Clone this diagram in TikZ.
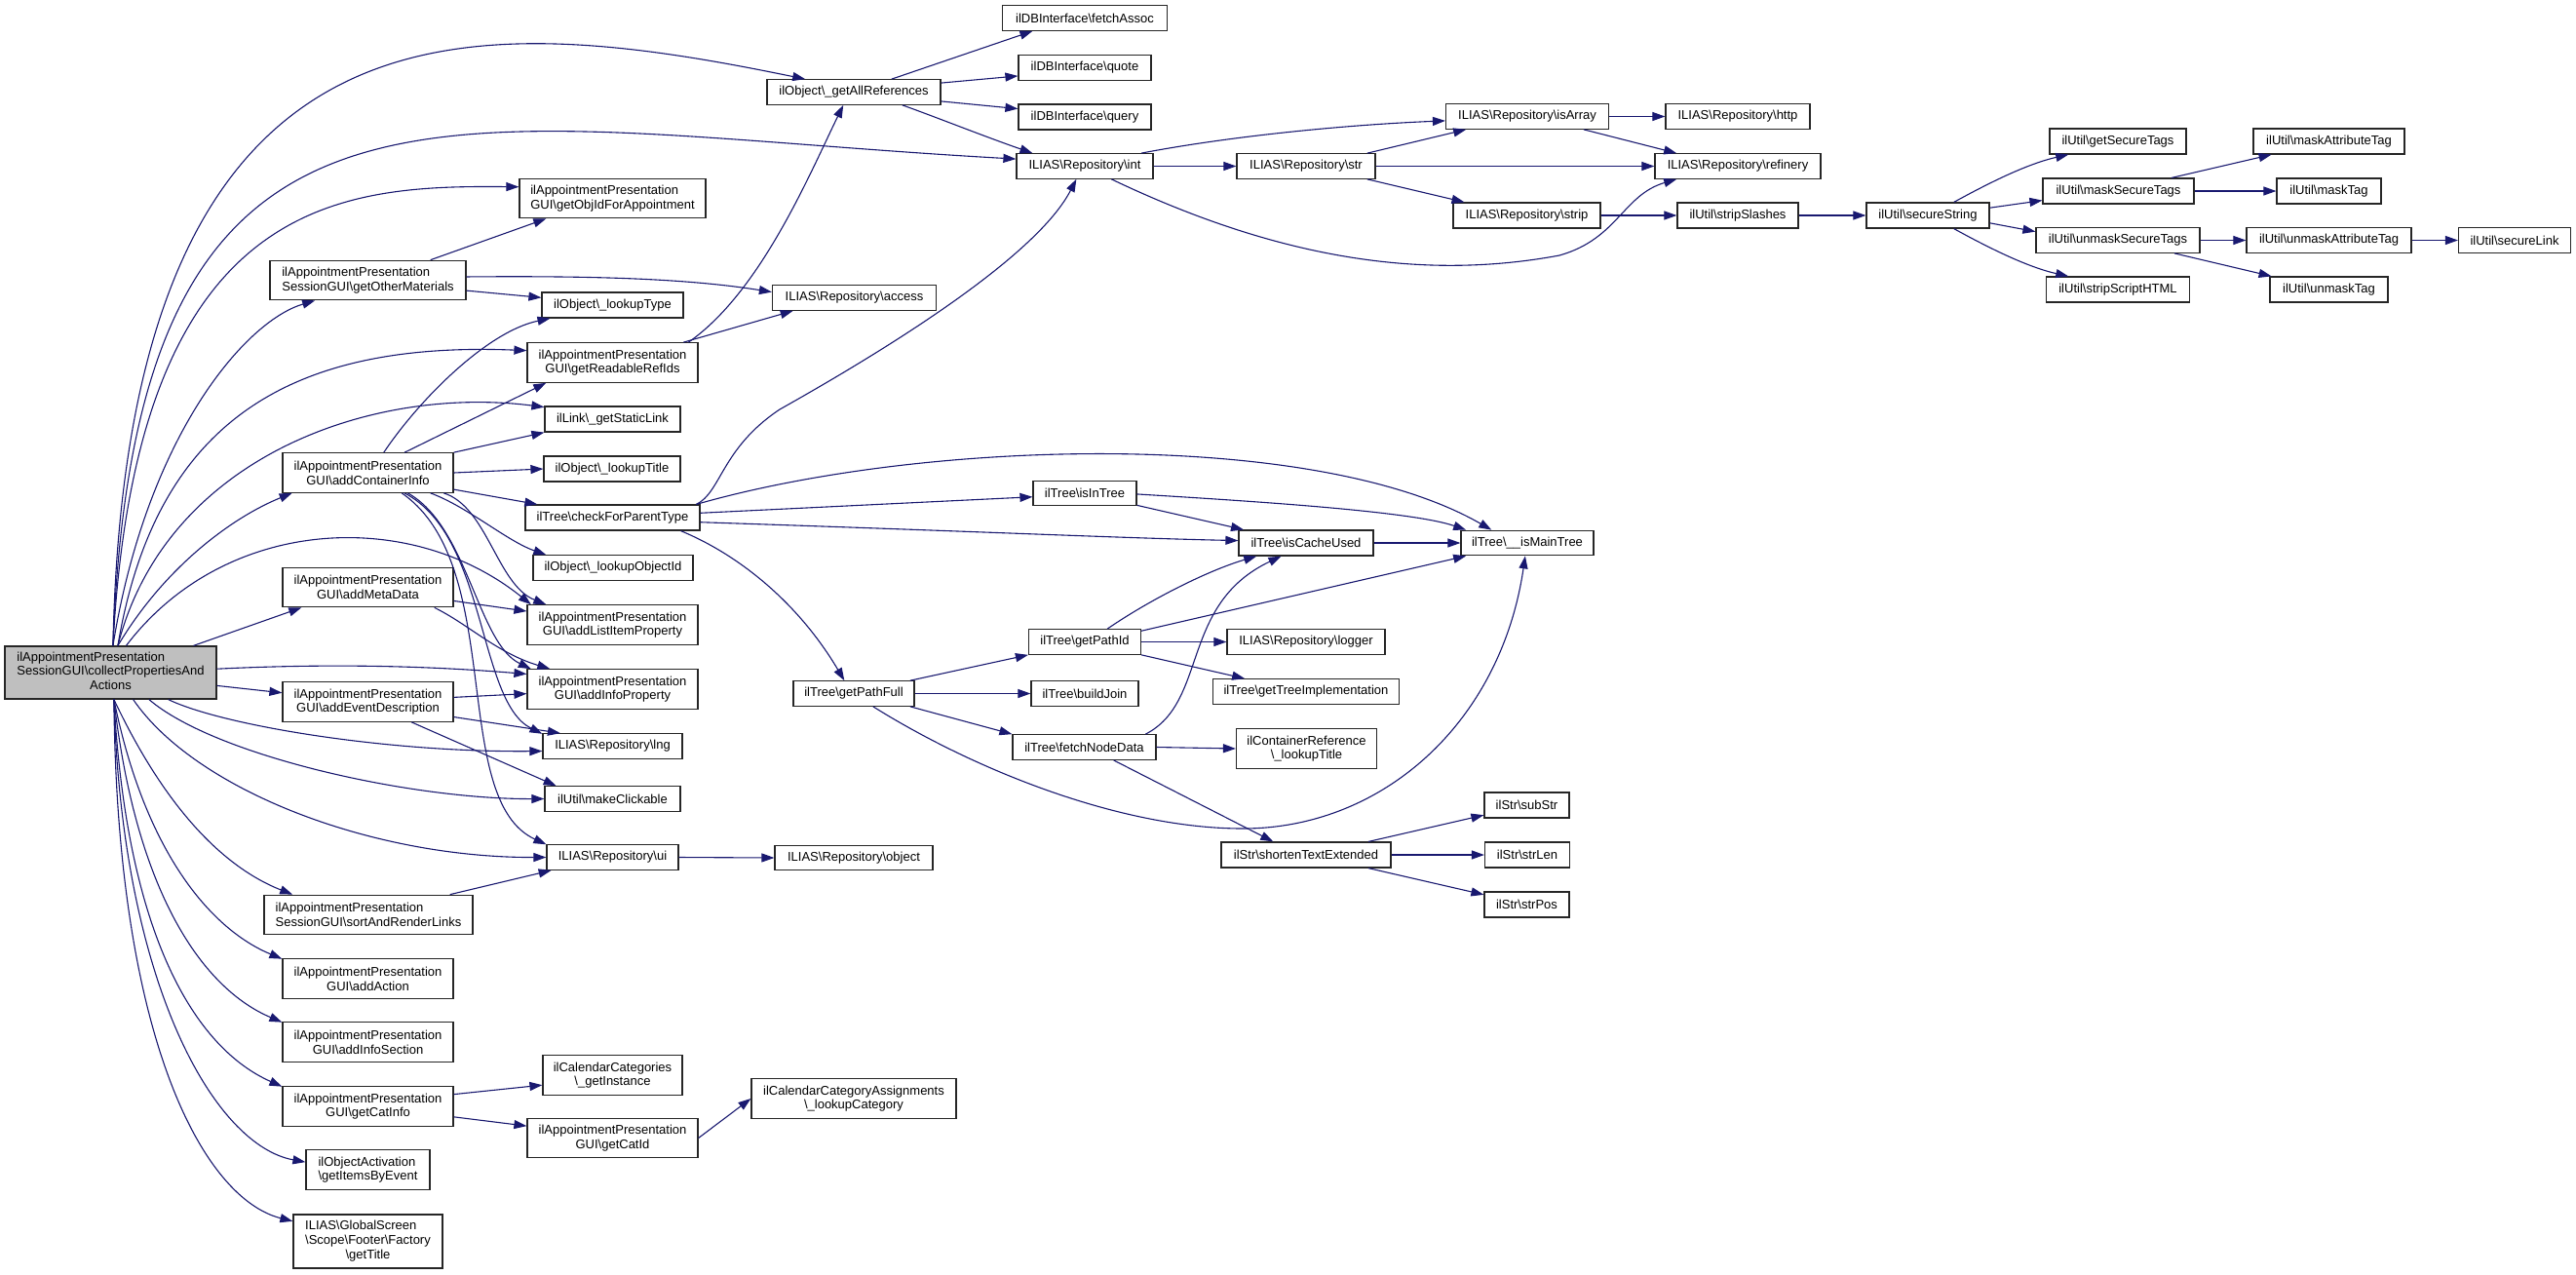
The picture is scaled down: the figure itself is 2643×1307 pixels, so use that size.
\documentclass[tikz,border=0pt]{standalone}
\usepackage{fontspec}
\setmainfont{Liberation Sans}
\usepackage{tikz}
\usetikzlibrary{arrows.meta}
\usepackage{xcolor}
\definecolor{dxnavy}{RGB}{25,25,112}
\definecolor{dxgray}{RGB}{191,191,191}
\newcommand{\bsl}{\textbackslash}
\tikzstyle{fn} = [rectangle, draw=black!85, line width=0.6pt, inner sep=0pt, minimum height=12.75pt, font=\fontsize{6.5pt}{7.35pt}\selectfont, align=center]
\tikzstyle{fntwo} = [fn, minimum height=20.25pt]
\tikzstyle{call} = [draw=dxnavy, line width=0.55pt, -{Triangle[length=6.5pt,width=4.5pt]}]

\begin{document}
\begin{tikzpicture}[x=0.5pt, y=-0.5pt]
    \path[use as bounding box, fill=white] (0,0) rectangle (2643,1307);

    % Caller
    \node[fn, fill=dxgray, minimum width=108.5pt, minimum height=27pt] (collect) at (113.5,690) {\begin{tabular}{@{}l@{}}ilAppointmentPresentation\\SessionGUI\bsl collectPropertiesAnd\\\multicolumn{1}{@{}c@{}}{Actions}\end{tabular}};

    % First rank
    \node[fntwo, align=left, minimum width=100.5pt] (getOther) at (377.5,287.5) {ilAppointmentPresentation\\SessionGUI\bsl getOtherMaterials};
    \node[fntwo, minimum width=87.5pt] (contInfo) at (377.5,485) {ilAppointmentPresentation\\GUI\bsl addContainerInfo};
    \node[fntwo, minimum width=87.5pt] (metaData) at (377.5,602.5) {ilAppointmentPresentation\\GUI\bsl addMetaData};
    \node[fntwo, minimum width=87.5pt] (eventDesc) at (377.5,720) {ilAppointmentPresentation\\GUI\bsl addEventDescription};
    \node[fntwo, align=left, minimum width=107pt] (sortLinks) at (378,938.5) {ilAppointmentPresentation\\SessionGUI\bsl sortAndRenderLinks};
    \node[fntwo, minimum width=87.5pt] (addAction) at (377.5,1004) {ilAppointmentPresentation\\GUI\bsl addAction};
    \node[fntwo, minimum width=87.5pt] (infoSection) at (377.5,1069) {ilAppointmentPresentation\\GUI\bsl addInfoSection};
    \node[fntwo, minimum width=87.5pt] (catInfo) at (377.5,1135) {ilAppointmentPresentation\\GUI\bsl getCatInfo};
    \node[fntwo, align=left, minimum width=63.5pt] (itemsByEvent) at (377.5,1200) {ilObjectActivation\\\bsl getItemsByEvent};
    \node[fn, minimum width=76.5pt, minimum height=27.5pt] (footerTitle) at (377.5,1273.5) {\begin{tabular}{@{}l@{}}ILIAS\bsl GlobalScreen\\\bsl Scope\bsl Footer\bsl Factory\\\multicolumn{1}{@{}c@{}}{\bsl getTitle}\end{tabular}};

    % Second rank
    \node[fntwo, align=left, minimum width=95.5pt] (getObjId) at (628.5,203.5) {ilAppointmentPresentation\\GUI\bsl getObjIdForAppointment};
    \node[fn, minimum width=72.5pt, minimum height=13pt] (lookupType) at (628.5,313) {ilObject\bsl\_lookupType};
    \node[fntwo, minimum width=87.5pt] (readableRefs) at (628.5,372) {ilAppointmentPresentation\\GUI\bsl getReadableRefIds};
    \node[fn, minimum width=69.5pt, minimum height=13pt] (staticLink) at (628.5,430) {ilLink\bsl\_getStaticLink};
    \node[fn, minimum width=70pt, minimum height=13pt] (lookupTitle) at (628,481) {ilObject\bsl\_lookupTitle};
    \node[fn, minimum width=89.5pt, minimum height=13pt] (checkParent) at (628.5,531) {ilTree\bsl checkForParentType};
    \node[fn, minimum width=82pt] (lookupObjId) at (629,582.5) {ilObject\bsl\_lookupObjectId};
    \node[fntwo, minimum width=87.5pt] (listItem) at (628.5,641) {ilAppointmentPresentation\\GUI\bsl addListItemProperty};
    \node[fntwo, minimum width=87.5pt] (infoProp) at (628.5,707) {ilAppointmentPresentation\\GUI\bsl addInfoProperty};
    \node[fn, minimum width=71.5pt] (lng) at (628.5,765.5) {ILIAS\bsl Repository\bsl lng};
    \node[fn, minimum width=69.5pt] (clickable) at (628.5,819.5) {ilUtil\bsl makeClickable};
    \node[fn, minimum width=67.5pt] (ui) at (628.5,879.5) {ILIAS\bsl Repository\bsl ui};
    \node[fntwo, minimum width=71.5pt] (getInstance) at (628.5,1103) {ilCalendarCategories\\\bsl\_getInstance};
    \node[fntwo, minimum width=87.5pt] (getCatId) at (628.5,1167.5) {ilAppointmentPresentation\\GUI\bsl getCatId};

    % Third rank
    \node[fn, minimum width=89pt] (getAllRefs) at (876,94.5) {ilObject\bsl\_getAllReferences};
    \node[fn, minimum width=84pt] (access) at (876.5,305.5) {ILIAS\bsl Repository\bsl access};
    \node[fn, minimum width=62pt] (getPathFull) at (876,711.5) {ilTree\bsl getPathFull};
    \node[fn, minimum width=81pt] (repObject) at (876,880) {ILIAS\bsl Repository\bsl object};
    \node[fntwo, minimum width=105pt] (lookupCat) at (876,1127) {ilCalendarCategoryAssignments\\\bsl\_lookupCategory};

    % Fourth rank
    \node[fn, minimum width=84.5pt] (fetchAssoc) at (1113,18.5) {ilDBInterface\bsl fetchAssoc};
    \node[fn, minimum width=68pt] (quote) at (1113,69.5) {ilDBInterface\bsl quote};
    \node[fn, minimum width=68pt, minimum height=13pt] (query) at (1113,120) {ilDBInterface\bsl query};
    \node[fn, minimum width=70pt] (repInt) at (1113,170.5) {ILIAS\bsl Repository\bsl int};
    \node[fn, minimum width=53pt] (isInTree) at (1113,506) {ilTree\bsl isInTree};
    \node[fn, minimum width=57.5pt] (getPathId) at (1113,658.5) {ilTree\bsl getPathId};
    \node[fn, minimum width=55pt] (buildJoin) at (1113,711.5) {ilTree\bsl buildJoin};
    \node[fn, minimum width=73.5pt] (fetchNode) at (1112.5,766.5) {ilTree\bsl fetchNodeData};

    % Fifth rank
    \node[fn, minimum width=71pt] (repStr) at (1340,170.5) {ILIAS\bsl Repository\bsl str};
    \node[fn, minimum width=69pt, minimum height=13pt] (isCacheUsed) at (1340,557) {ilTree\bsl isCacheUsed};
    \node[fn, minimum width=81pt] (logger) at (1340,658.5) {ILIAS\bsl Repository\bsl logger};
    \node[fn, minimum width=95.5pt] (treeImpl) at (1340,709.5) {ilTree\bsl getTreeImplementation};
    \node[fntwo, minimum width=72pt] (contRefTitle) at (1340.5,768) {ilContainerReference\\\bsl\_lookupTitle};
    \node[fn, minimum width=87pt, minimum height=13pt] (shortenText) at (1340,877) {ilStr\bsl shortenTextExtended};

    % Sixth rank
    \node[fn, minimum width=83.5pt] (isArray) at (1567,119.5) {ILIAS\bsl Repository\bsl isArray};
    \node[fn, minimum width=75.5pt, minimum height=13pt] (strip) at (1566.5,221) {ILIAS\bsl Repository\bsl strip};
    \node[fn, minimum width=68pt] (mainTree) at (1567,557) {ilTree\bsl\_\_isMainTree};
    \node[fn, minimum width=43.5pt, minimum height=13pt] (subStr) at (1566.5,826) {ilStr\bsl subStr};
    \node[fn, minimum width=43.5pt, minimum height=13pt] (strLen) at (1567,877) {ilStr\bsl strLen};
    \node[fn, minimum width=43.5pt, minimum height=13pt] (strPos) at (1566.5,928) {ilStr\bsl strPos};

    % Seventh rank and beyond
    \node[fn, minimum width=74pt] (http) at (1783,119.5) {ILIAS\bsl Repository\bsl http};
    \node[fn, minimum width=85pt] (refinery) at (1783,170.5) {ILIAS\bsl Repository\bsl refinery};
    \node[fn, minimum width=62pt, minimum height=13pt] (stripSlashes) at (1783,221) {ilUtil\bsl stripSlashes};
    \node[fn, minimum width=63pt, minimum height=13pt] (secureString) at (1978,221) {ilUtil\bsl secureString};
    \node[fn, minimum width=70pt, minimum height=13pt] (getSecureTags) at (2173,145) {ilUtil\bsl getSecureTags};
    \node[fn, minimum width=77.5pt, minimum height=13pt] (maskSecureTags) at (2173.5,196) {ilUtil\bsl maskSecureTags};
    \node[fn, minimum width=84pt] (unmaskSecureTags) at (2173,246.5) {ilUtil\bsl unmaskSecureTags};
    \node[fn, minimum width=73.5pt, minimum height=13pt] (stripScript) at (2173,297) {ilUtil\bsl stripScriptHTML};
    \node[fn, minimum width=77.5pt, minimum height=13pt] (maskAttr) at (2389.5,145) {ilUtil\bsl maskAttributeTag};
    \node[fn, minimum width=53.5pt, minimum height=13pt] (maskTag) at (2389.5,196) {ilUtil\bsl maskTag};
    \node[fn, minimum width=84.5pt] (unmaskAttr) at (2389.5,246.5) {ilUtil\bsl unmaskAttributeTag};
    \node[fn, minimum width=60.5pt, minimum height=13pt] (unmaskTag) at (2389.5,297) {ilUtil\bsl unmaskTag};
    \node[fn, minimum width=57.5pt] (secureLink) at (2580,246.5) {ilUtil\bsl secureLink};

    % Calls from collectPropertiesAndActions
    \draw[call] (collect.85) .. controls (130,-20) and (480,10) .. (getAllRefs.165);
    \draw[call] (collect.85) .. controls (140,20) and (450,130) .. (repInt.174);
    \draw[call] (collect.85) .. controls (140,200) and (350,190) .. (getObjId.173);
    \draw[call] (collect.85) .. controls (150,450) and (250,330) .. (getOther.-159);
    \draw[call] (collect.75) .. controls (160,430) and (300,350) .. (readableRefs.172);
    \draw[call] (collect.75) .. controls (170,470) and (380,395) .. (staticLink.170);
    \draw[call] (collect.75) .. controls (170,580) and (240,530) .. (contInfo.-165);
    \draw[call] (collect.60) .. controls (230,530) and (420,520) .. (listItem.166);
    \draw[call] (collect.18) -- (metaData.-163);
    \draw[call] (collect.2) .. controls (350,680) and (450,684) .. (infoProp.170);
    \draw[call] (collect.-7) -- (eventDesc.174);
    \draw[call] (collect.-25) .. controls (230,745) and (400,772) .. (lng.184);
    \draw[call] (collect.-35) .. controls (220,775) and (420,820) .. (clickable.west);
    \draw[call] (collect.-50) .. controls (200,810) and (380,880) .. (ui.west);
    \draw[call] (collect.-83) .. controls (170,830) and (230,890) .. (sortLinks.165);
    \draw[call] (collect.-83) .. controls (150,880) and (220,955) .. (addAction.167);
    \draw[call] (collect.-83) .. controls (140,920) and (210,1015) .. (infoSection.167);
    \draw[call] (collect.-83) .. controls (130,960) and (200,1075) .. (catInfo.167);
    \draw[call] (collect.-83) .. controls (125,1010) and (220,1175) .. (itemsByEvent.173);
    \draw[call] (collect.-83) .. controls (120,1070) and (210,1230) .. (footerTitle.165);

    % getOtherMaterials
    \draw[call] (getOther.18) -- (getObjId.-163);
    \draw[call] (getOther.2) .. controls (600,283) and (700,285) .. (access.176);
    \draw[call] (getOther.-6) -- (lookupType.174);

    % addContainerInfo
    \draw[call] (contInfo.52) .. controls (430,410) and (500,340) .. (lookupType.-168);
    \draw[call] (contInfo.29) -- (readableRefs.-163);
    \draw[call] (contInfo.north east) -- (staticLink.south west);
    \draw[call] (contInfo.east) -- (lookupTitle.west);
    \draw[call] (contInfo.-11) -- (checkParent.170);
    \draw[call] (contInfo.-18) .. controls (480,520) and (520,555) .. (lookupObjId.169);
    \draw[call] (contInfo.-15) .. controls (500,520) and (510,600) .. (listItem.163);
    \draw[call] (contInfo.-27) .. controls (480,540) and (490,660) .. (infoProp.166);
    \draw[call] (contInfo.-29) .. controls (500,550) and (490,720) .. (lng.170);
    \draw[call] (contInfo.-31) .. controls (520,580) and (460,820) .. (ui.169);

    % addMetaData, addEventDescription
    \draw[call] (metaData.-9) -- (listItem.171);
    \draw[call] (metaData.-17) .. controls (480,640) and (510,670) .. (infoProp.162);
    \draw[call] (eventDesc.3) -- (infoProp.183);
    \draw[call] (eventDesc.-10) -- (lng.166);
    \draw[call] (eventDesc.-25) -- (clickable.167);

    % sortAndRenderLinks, getCatInfo, ui
    \draw[call] (sortLinks.14) -- (ui.-168);
    \draw[call] (catInfo.8) -- (getInstance.188);
    \draw[call] (catInfo.-7) -- (getCatId.172);
    \draw[call] (getCatId.east) -- (lookupCat.west);
    \draw[call] (ui.east) -- (repObject.west);

    % getReadableRefIds
    \draw[call] (readableRefs.15) .. controls (780,300) and (830,180) .. (getAllRefs.-129);
    \draw[call] (readableRefs.16) -- (access.-168);

    % getAllReferences
    \draw[call] (getAllRefs.19) -- (fetchAssoc.-166);
    \draw[call] (getAllRefs.6) -- (quote.187);
    \draw[call] (getAllRefs.-6) -- (query.173);
    \draw[call] (getAllRefs.-15) .. controls (960,120) and (1010,140) .. (repInt.166);

    % Repository int, str, isArray
    \draw[call] (repInt.east) -- (repStr.west);
    \draw[call] (repInt.13) .. controls (1260,140) and (1380,128) .. (isArray.183);
    \draw[call] (repInt.-26) .. controls (1300,260) and (1450,290) .. (1600,262) .. controls (1660,245) and (1665,200) .. (refinery.-168);
    \draw[call] (repStr.12) -- (isArray.-168);
    \draw[call] (repStr.east) -- (refinery.west);
    \draw[call] (repStr.-12) -- (strip.168);
    \draw[call] (isArray.east) -- (http.west);
    \draw[call] (isArray.-13) -- (refinery.168);

    % String sanitising
    \draw[call] (strip.east) -- (stripSlashes.west);
    \draw[call] (stripSlashes.east) -- (secureString.west);
    \draw[call] (secureString.27) .. controls (2040,188) and (2080,168) .. (getSecureTags.-165);
    \draw[call] (secureString.7) -- (maskSecureTags.187);
    \draw[call] (secureString.-7) -- (unmaskSecureTags.174);
    \draw[call] (secureString.-27) .. controls (2040,254) and (2080,274) .. (stripScript.165);
    \draw[call] (maskSecureTags.14) -- (maskAttr.-167);
    \draw[call] (maskSecureTags.east) -- (maskTag.west);
    \draw[call] (unmaskSecureTags.east) -- (unmaskAttr.west);
    \draw[call] (unmaskSecureTags.-13) -- (unmaskTag.167);
    \draw[call] (unmaskAttr.east) -- (secureLink.west);

    % checkForParentType
    \draw[call] (checkParent.9) .. controls (740,505) and (740,460) .. (800,420) .. controls (880,375) and (1060,270) .. (repInt.-123);
    \draw[call] (checkParent.9) .. controls (950,450) and (1350,440) .. (mainTree.160);
    \draw[call] (checkParent.3) -- (isInTree.184);
    \draw[call] (checkParent.-3) .. controls (1000,545) and (1150,552) .. (isCacheUsed.178);
    \draw[call] (checkParent.-11) .. controls (760,570) and (820,620) .. (getPathFull.126);

    % Tree lookups
    \draw[call] (isInTree.-1) .. controls (1300,515) and (1450,525) .. (mainTree.168);
    \draw[call] (isInTree.-13) -- (isCacheUsed.168);
    \draw[call] (isCacheUsed.east) -- (mainTree.west);
    \draw[call] (getPathFull.13) -- (getPathId.south west);
    \draw[call] (getPathFull.east) -- (buildJoin.west);
    \draw[call] (getPathFull.-13) -- (fetchNode.north west);
    \draw[call] (getPathFull.-34) .. controls (1000,790) and (1150,850) .. (1275,850) .. controls (1420,850) and (1540,740) .. (mainTree.-99);
    \draw[call] (getPathId.30) .. controls (1180,615) and (1240,585) .. (isCacheUsed.-165);
    \draw[call] (getPathId.11) -- (mainTree.-168);
    \draw[call] (getPathId.east) -- (logger.west);
    \draw[call] (getPathId.south east) -- (treeImpl.168);
    \draw[call] (fetchNode.12) .. controls (1240,720) and (1210,620) .. (isCacheUsed.-152);
    \draw[call] (fetchNode.east) -- (contRefTitle.west);
    \draw[call] (fetchNode.-24) -- (shortenText.158);

    % shortenTextExtended
    \draw[call] (shortenText.12) -- (subStr.193);
    \draw[call] (shortenText.east) -- (strLen.west);
    \draw[call] (shortenText.-12) -- (strPos.167);
\end{tikzpicture}
\end{document}
